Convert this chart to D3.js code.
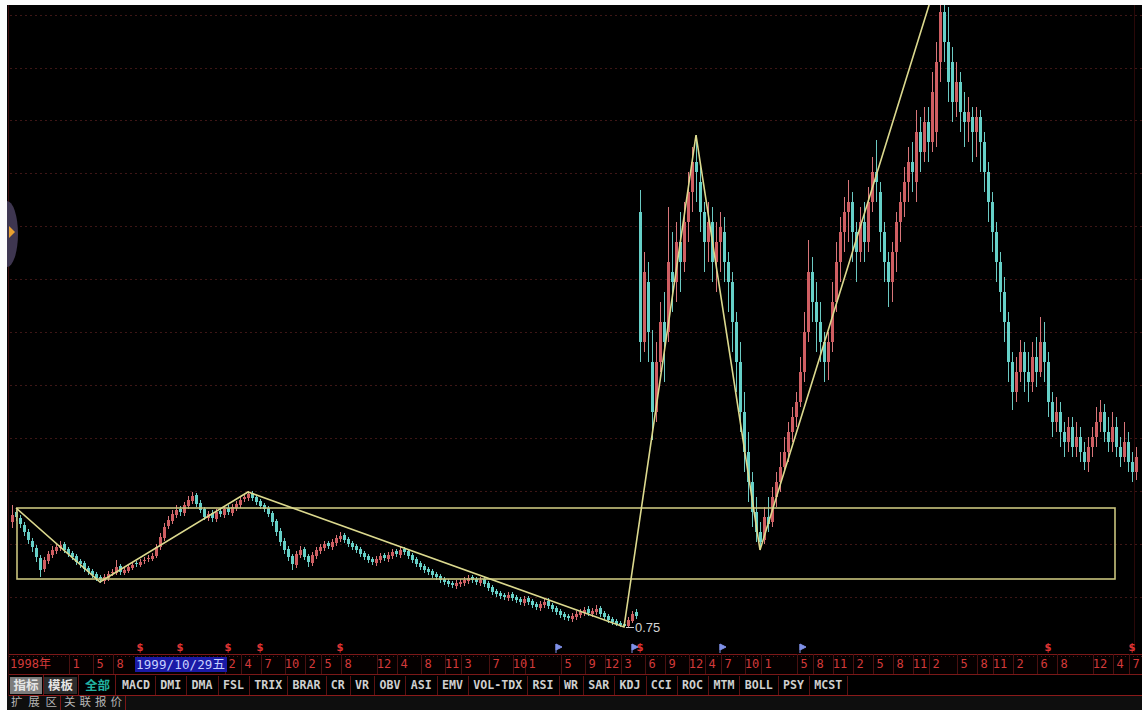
<!DOCTYPE html>
<html><head><meta charset="utf-8">
<script src="https://cdn.jsdelivr.net/npm/d3@7"></script>
<style>html,body{margin:0;padding:0;background:#000;overflow:hidden}svg{display:block}</style>
</head><body><svg id="c" width="1142" height="710"></svg>
<script>
// ---- candle data (weekly bars, price units) ----
const openP=[
1.80,1.90,1.84,1.77,1.70,1.61,1.54,1.44,1.33,1.41,
1.47,1.51,1.54,1.58,1.53,1.49,1.46,1.41,1.39,1.34,
1.31,1.28,1.25,1.21,1.24,1.29,1.29,1.36,1.29,1.31,
1.34,1.39,1.37,1.41,1.43,1.43,1.46,1.55,1.64,1.76,
1.81,1.87,1.93,1.89,1.96,2.01,2.07,1.99,1.93,1.84,
1.89,1.83,1.91,1.87,1.94,1.89,1.94,1.97,2.03,2.04,
2.09,2.05,2.01,1.97,1.94,1.89,1.81,1.71,1.61,1.53,
1.46,1.37,1.47,1.53,1.46,1.39,1.46,1.51,1.54,1.59,
1.55,1.59,1.63,1.67,1.63,1.59,1.56,1.53,1.49,1.46,
1.43,1.39,1.42,1.47,1.43,1.46,1.51,1.47,1.53,1.51,
1.47,1.43,1.39,1.36,1.33,1.31,1.28,1.26,1.23,1.21,
1.19,1.16,1.18,1.19,1.21,1.25,1.23,1.19,1.23,1.19,
1.15,1.11,1.09,1.07,1.04,1.08,1.05,1.03,0.99,1.04,
1.01,0.98,0.94,0.97,1.01,0.97,0.94,0.91,0.88,0.86,
0.83,0.85,0.87,0.89,0.93,0.88,0.90,0.94,0.89,0.86,
0.83,0.81,0.79,0.78,0.76,0.81,0.90,4.90,3.60,4.20,
3.40,2.90,3.40,3.80,3.70,4.30,4.20,4.60,4.40,4.80,
5.10,5.40,5.20,4.90,4.60,4.80,4.40,4.60,4.70,4.40,
4.20,3.80,3.40,2.90,2.50,2.20,1.90,1.70,1.62,1.85,
1.80,2.05,2.20,2.35,2.50,2.70,2.85,3.00,3.30,3.70,
4.30,4.00,3.80,3.60,3.40,3.60,4.00,4.40,4.70,4.90,
5.00,4.70,4.50,4.80,4.60,5.00,5.30,5.10,4.70,4.40,
4.20,4.50,4.80,5.00,5.20,5.40,5.20,5.70,5.50,5.80,
5.60,5.70,6.40,6.90,6.60,6.40,6.00,6.20,5.90,5.80,
5.85,5.70,5.85,5.60,5.30,5.00,4.70,4.40,4.10,3.80,
3.40,3.10,3.30,3.50,3.30,3.20,3.45,3.30,3.60,3.40,
3.00,2.80,2.90,2.70,2.60,2.75,2.55,2.65,2.50,2.40,
2.55,2.65,2.80,2.90,2.70,2.60,2.75,2.55,2.45,2.60,
2.40,2.30];
const highP=[
1.97,1.92,1.87,1.80,1.73,1.64,1.57,1.47,1.45,1.51,
1.56,1.58,1.61,1.60,1.55,1.51,1.48,1.43,1.41,1.36,
1.33,1.30,1.27,1.28,1.31,1.33,1.42,1.38,1.35,1.38,
1.40,1.41,1.43,1.45,1.47,1.49,1.58,1.69,1.79,1.86,
1.92,1.97,1.96,2.00,2.06,2.10,2.09,2.02,1.95,1.91,
1.92,1.93,1.93,1.96,1.97,1.98,2.01,2.05,2.08,2.11,
2.11,2.07,2.03,1.99,1.96,1.91,1.83,1.74,1.64,1.56,
1.48,1.51,1.56,1.55,1.48,1.50,1.55,1.58,1.61,1.61,
1.63,1.67,1.70,1.69,1.65,1.61,1.58,1.55,1.51,1.48,
1.45,1.46,1.49,1.49,1.50,1.53,1.53,1.55,1.55,1.53,
1.49,1.45,1.41,1.38,1.35,1.33,1.30,1.28,1.25,1.23,
1.21,1.22,1.23,1.25,1.27,1.27,1.25,1.25,1.25,1.21,
1.17,1.13,1.11,1.09,1.10,1.10,1.07,1.05,1.06,1.06,
1.03,1.00,1.01,1.03,1.04,0.99,0.96,0.93,0.90,0.88,
0.89,0.91,0.93,0.95,0.96,0.94,0.97,0.96,0.91,0.88,
0.85,0.83,0.81,0.80,0.85,0.91,0.93,5.12,4.50,4.40,
3.72,3.60,4.00,4.10,4.95,4.70,4.80,4.90,5.00,5.30,
5.55,5.67,5.40,5.00,5.00,4.95,4.80,4.90,4.85,4.50,
4.30,3.90,3.60,3.10,2.70,2.30,2.05,1.80,1.95,2.05,
2.15,2.30,2.50,2.65,2.80,2.95,3.10,3.45,3.90,4.62,
4.45,4.20,4.00,3.70,3.70,4.20,4.60,4.85,5.05,5.22,
5.10,4.80,4.95,5.00,5.15,5.45,5.62,5.20,4.80,4.50,
4.60,4.90,5.10,5.35,5.55,5.60,5.92,5.85,5.95,5.95,
6.30,6.60,6.98,6.98,6.95,6.55,6.40,6.30,6.10,6.05,
5.95,5.95,5.92,5.70,5.40,5.10,4.80,4.50,4.25,3.90,
3.50,3.45,3.62,3.60,3.50,3.60,3.65,3.85,3.80,3.50,
3.10,3.05,3.00,2.80,2.85,2.85,2.80,2.75,2.60,2.65,
2.75,2.95,3.02,2.98,2.85,2.90,2.85,2.65,2.80,2.70,
2.50,2.55];
const lowP=[
1.74,1.81,1.74,1.66,1.58,1.50,1.40,1.25,1.30,1.38,
1.44,1.48,1.51,1.49,1.45,1.42,1.37,1.34,1.30,1.27,
1.24,1.21,1.19,1.18,1.21,1.26,1.27,1.27,1.27,1.29,
1.32,1.35,1.35,1.38,1.40,1.41,1.44,1.52,1.61,1.73,
1.78,1.84,1.86,1.86,1.93,1.98,1.95,1.89,1.82,1.81,
1.80,1.80,1.85,1.84,1.87,1.86,1.91,1.94,2.00,2.01,
2.01,1.97,1.93,1.90,1.85,1.76,1.66,1.56,1.48,1.41,
1.32,1.34,1.44,1.42,1.35,1.36,1.43,1.48,1.51,1.53,
1.52,1.56,1.60,1.59,1.55,1.52,1.49,1.45,1.42,1.39,
1.37,1.36,1.39,1.41,1.40,1.43,1.45,1.44,1.47,1.43,
1.39,1.35,1.32,1.29,1.27,1.24,1.22,1.19,1.17,1.15,
1.14,1.13,1.15,1.16,1.18,1.19,1.17,1.16,1.15,1.11,
1.07,1.05,1.03,1.02,1.01,1.01,0.99,0.97,0.96,0.97,
0.94,0.92,0.91,0.94,0.93,0.90,0.87,0.84,0.82,0.81,
0.80,0.82,0.84,0.86,0.86,0.85,0.87,0.85,0.82,0.79,
0.77,0.76,0.75,0.75,0.75,0.79,0.83,3.40,3.50,3.40,
2.62,2.80,3.30,3.20,3.60,3.90,4.00,4.10,4.30,4.60,
4.90,5.00,4.70,4.30,4.40,4.20,4.10,4.30,4.20,3.90,
3.50,3.10,2.70,2.30,2.00,1.75,1.60,1.52,1.58,1.70,
1.75,1.95,2.10,2.30,2.40,2.60,2.75,2.95,3.20,3.60,
3.80,3.50,3.40,3.20,3.22,3.50,3.90,4.20,4.50,4.60,
4.40,4.20,4.40,4.40,4.50,4.90,5.00,4.50,4.20,3.95,
4.00,4.30,4.60,4.85,5.00,5.10,5.00,5.30,5.40,5.40,
5.50,5.55,6.20,6.40,6.00,5.80,5.85,5.70,5.55,5.60,
5.40,5.45,5.30,5.10,4.80,4.50,4.20,3.90,3.60,3.20,
2.92,3.00,3.20,3.10,3.00,3.10,3.15,3.25,3.20,2.85,
2.65,2.70,2.55,2.45,2.50,2.45,2.45,2.40,2.32,2.30,
2.45,2.55,2.70,2.60,2.50,2.50,2.45,2.35,2.40,2.30,
2.20,2.22];
const closeP=[
1.87,1.85,1.78,1.70,1.62,1.55,1.45,1.32,1.42,1.48,
1.52,1.55,1.57,1.52,1.48,1.45,1.40,1.38,1.33,1.30,
1.27,1.24,1.22,1.25,1.28,1.30,1.35,1.30,1.32,1.35,
1.37,1.38,1.40,1.42,1.44,1.46,1.55,1.65,1.75,1.82,
1.88,1.92,1.90,1.97,2.02,2.06,1.98,1.92,1.85,1.88,
1.84,1.90,1.88,1.93,1.90,1.95,1.98,2.02,2.05,2.08,
2.04,2.00,1.96,1.93,1.88,1.80,1.70,1.60,1.52,1.45,
1.38,1.48,1.52,1.45,1.40,1.47,1.52,1.55,1.58,1.56,
1.60,1.64,1.66,1.62,1.58,1.55,1.52,1.48,1.45,1.42,
1.40,1.43,1.46,1.44,1.47,1.50,1.48,1.52,1.50,1.46,
1.42,1.38,1.35,1.32,1.30,1.27,1.25,1.22,1.20,1.18,
1.17,1.19,1.20,1.22,1.24,1.22,1.20,1.22,1.18,1.14,
1.10,1.08,1.06,1.05,1.07,1.04,1.02,1.00,1.03,1.00,
0.97,0.95,0.98,1.00,0.96,0.93,0.90,0.87,0.85,0.84,
0.86,0.88,0.90,0.92,0.89,0.91,0.93,0.88,0.85,0.82,
0.80,0.78,0.77,0.76,0.82,0.88,0.86,3.60,4.30,3.70,
2.90,3.40,3.80,3.60,4.40,4.20,4.60,4.40,4.80,5.10,
5.40,5.30,4.90,4.60,4.80,4.40,4.60,4.75,4.40,4.20,
3.80,3.40,2.90,2.50,2.20,1.90,1.70,1.60,1.85,1.78,
2.05,2.20,2.35,2.50,2.70,2.85,3.00,3.30,3.70,4.30,
4.00,3.80,3.60,3.40,3.60,4.00,4.40,4.70,4.90,5.00,
4.70,4.50,4.80,4.60,5.00,5.30,5.20,4.70,4.40,4.20,
4.50,4.80,5.00,5.20,5.40,5.30,5.70,5.50,5.80,5.60,
6.10,6.40,6.90,6.60,6.20,6.00,6.20,5.90,5.80,5.90,
5.70,5.85,5.60,5.30,5.00,4.70,4.40,4.10,3.80,3.40,
3.10,3.30,3.50,3.30,3.20,3.45,3.30,3.60,3.40,3.00,
2.80,2.90,2.70,2.60,2.75,2.55,2.65,2.50,2.40,2.55,
2.65,2.80,2.90,2.70,2.60,2.75,2.55,2.45,2.60,2.40,
2.30,2.45];

// ---- drawn objects ----
const zigzagIdx=[1,22,59,153,171,187,229.5];
const zigzagPrice=[1.94,1.20,2.10,0.75,5.67,1.52,7.00];
const boxIdx=[1.25,275.75];
const boxPrice=[1.23,1.94];
const gridPrices=[6.87,6.34,5.82,5.29,4.76,4.23,3.70,3.17,2.64,2.11,1.58,1.05];
const lowLabel="0.75", lowIdx=153, lowPrice=0.75;

// ---- date axis ----
const dateLabels=["1998年","1","5","8","2","4","7","10","2","5","8","12","4","8","11","3","7","10","1","5","9","12","3","6","9","12","4","7","10","1","5","8","11","2","5","8","11","2","5","8","11","2","6","8","12","4","7"];
const dateIdx=[0,16,22,27,55,59,64,70,75,79,84,93,98,104,110,114,121,127,130,139,145,150,154,160,165,171,175,179,185,189,198,202,207,212,217,222,227,231,238,243,247,252,258,263,272,277,281];
const cursorDate="1999/10/29五", cursorIdx=31;
const redMarkIdx=[32,42,54,62,82,157,259,280];
const blueMarkIdx=[136,155,177,197];

// ---- tabs ----
const leftTabs=["指标","模板","全部"];
const tabNames=["MACD","DMI","DMA","FSL","TRIX","BRAR","CR","VR","OBV","ASI","EMV","VOL-TDX","RSI","WR","SAR","KDJ","CCI","ROC","MTM","BOLL","PSY","MCST"];
const bottomTabs=["扩展区","关联报价"];

const W=1142,H=710;
const svg=d3.select("#c");
const N=closeP.length;
const x=d3.scaleLinear().domain([0,N-1]).range([12,12+4*(N-1)]);
const y=d3.scaleLinear().domain([0.75,6.97]).range([627,5]);

svg.append("rect").attr("width",W).attr("height",H).attr("fill","#000");

// clip for chart
svg.append("clipPath").attr("id","cp").append("rect").attr("x",9).attr("y",5).attr("width",W-9).attr("height",648);
const g=svg.append("g").attr("clip-path","url(#cp)");

// grid
g.selectAll("line.grid").data(gridPrices).join("line")
 .attr("x1",10).attr("x2",W).attr("y1",d=>Math.round(y(d))+0.5).attr("y2",d=>Math.round(y(d))+0.5)
 .attr("stroke","#3e1616").attr("stroke-width",1).attr("stroke-dasharray","2,3");

// candles
const data=d3.range(N).map(i=>({i,o:openP[i],h:highP[i],l:lowP[i],c:closeP[i]}));
const up=d=>d.c>=d.o;
const cg=g.append("g");
cg.selectAll("line.wick").data(data).join("line")
 .attr("x1",d=>x(d.i)+0.5).attr("x2",d=>x(d.i)+0.5)
 .attr("y1",d=>y(d.h)).attr("y2",d=>y(d.l))
 .attr("stroke",d=>up(d)?"#d8767a":"#6cc9c2").attr("stroke-width",1);
cg.selectAll("rect.body").data(data).join("rect")
 .attr("x",d=>x(d.i)-1).attr("width",3)
 .attr("y",d=>y(Math.max(d.o,d.c)))
 .attr("height",d=>Math.max(1,y(Math.min(d.o,d.c))-y(Math.max(d.o,d.c))))
 .attr("fill",d=>up(d)?"#cf5e62":"#66d0c8");

// box
g.append("rect")
 .attr("x",x(boxIdx[0])).attr("y",y(boxPrice[1]))
 .attr("width",x(boxIdx[1])-x(boxIdx[0])).attr("height",y(boxPrice[0])-y(boxPrice[1]))
 .attr("fill","none").attr("stroke","#c9c47e").attr("stroke-width",1.6);

// zigzag
const zz=zigzagIdx.map((d,k)=>[x(d),y(zigzagPrice[k])]);
g.append("path").attr("d",d3.line()(zz)).attr("fill","none")
 .attr("stroke","#dcd98e").attr("stroke-width",1.6);

// low label
g.append("line").attr("x1",x(lowIdx)+2).attr("x2",x(lowIdx)+10)
 .attr("y1",y(lowPrice)+0.5).attr("y2",y(lowPrice)+0.5).attr("stroke","#d0d0d0");
g.append("text").attr("x",x(lowIdx)+11).attr("y",y(lowPrice)+5)
 .attr("fill","#d4d4d4").attr("font-family","Liberation Sans, Arial").attr("font-size",13).text(lowLabel);

// frame: white top/left
svg.append("rect").attr("x",0).attr("y",0).attr("width",W).attr("height",5).attr("fill","#fbfbfb");
svg.append("rect").attr("x",0).attr("y",0).attr("width",7).attr("height",H).attr("fill","#fbfbfb");
svg.append("line").attr("x1",8.5).attr("x2",8.5).attr("y1",5).attr("y2",H).attr("stroke","#3a0c0c");
svg.append("line").attr("x1",1134.5).attr("x2",1134.5).attr("y1",5).attr("y2",652).attr("stroke","#2a0808");

// left handle
svg.append("path").attr("d","M7,201 A11,33 0 0 1 7,267 Z").attr("fill","#3e3650");
svg.append("path").attr("d","M9,226 L15,232 L9,238 Z").attr("fill","#e8a030");

// markers above date axis
svg.selectAll("text.rm").data(redMarkIdx).join("text")
 .attr("x",d=>x(d)).attr("y",651).attr("text-anchor","middle")
 .attr("fill","#e03434").attr("font-family","DejaVu Sans").attr("font-size",10).attr("font-weight","bold").text("$");
svg.selectAll("path.bm").data(blueMarkIdx).join("path")
 .attr("d",d=>`M${x(d)},644 L${x(d)+6},647 L${x(d)},650 Z M${x(d)},644 L${x(d)},653`)
 .attr("fill","#7f90e8").attr("stroke","#7f90e8").attr("stroke-width",1);

// date axis row
const dy0=654, dy1=674;
svg.append("rect").attr("x",9).attr("y",dy0).attr("width",W-9).attr("height",dy1-dy0).attr("fill","#050000");
svg.append("line").attr("x1",9).attr("x2",W).attr("y1",dy0+0.5).attr("y2",dy0+0.5).attr("stroke","#7a1818");
svg.append("line").attr("x1",9).attr("x2",W).attr("y1",dy0+2.5).attr("y2",dy0+2.5).attr("stroke","#5a1212").attr("stroke-dasharray","1,3");
svg.append("line").attr("x1",9).attr("x2",W).attr("y1",dy1+0.5).attr("y2",dy1+0.5).attr("stroke","#7a1818");
svg.selectAll("line.dsep").data(dateIdx.slice(1)).join("line")
 .attr("x1",d=>Math.round(x(d))-6.5).attr("x2",d=>Math.round(x(d))-6.5).attr("y1",dy0).attr("y2",dy1)
 .attr("stroke","#4a1010");
svg.selectAll("text.dl").data(dateLabels).join("text")
 .attr("x",(d,k)=>k===0?x(dateIdx[k])-2:x(dateIdx[k]))
 .attr("y",dy0+14).attr("text-anchor",(d,k)=>k===0?"start":"middle")
 .attr("fill","#d33a3a").attr("font-family","DejaVu Sans Mono, Noto Sans CJK SC").attr("font-size",12).text(d=>d);
// cursor date
const cx0=x(cursorIdx)-1;
svg.append("rect").attr("x",cx0).attr("y",dy0+3).attr("width",92).attr("height",15).attr("fill","#1a1aa6");
svg.append("text").attr("x",cx0+1).attr("y",dy0+15).attr("fill","#c8d0ff")
 .attr("font-family","DejaVu Sans Mono, Noto Sans CJK SC").attr("font-size",12.5).attr("textLength",89).text(cursorDate);

// tab row
const ty0=675, ty1=695;
svg.append("line").attr("x1",9).attr("x2",W).attr("y1",ty1+0.5).attr("y2",ty1+0.5).attr("stroke","#8a1a1a");
const ltX=[10,44,81], ltW=[32,33,33];
leftTabs.forEach((t,k)=>{
  svg.append("rect").attr("x",ltX[k]).attr("y",ty0+2).attr("width",ltW[k]).attr("height",17)
   .attr("fill",k===0?"#7c7c7c":(k===1?"#2c2c2c":"#000"));
  svg.append("text").attr("x",ltX[k]+ltW[k]/2).attr("y",ty0+15).attr("text-anchor","middle")
   .attr("fill",k===2?"#22b3a3":"#e6e6e6").attr("font-family","Noto Sans CJK SC").attr("font-weight","bold")
   .attr("font-size",12.5).text(t);
  svg.append("line").attr("x1",ltX[k]+ltW[k]+1.5).attr("x2",ltX[k]+ltW[k]+1.5).attr("y1",ty0).attr("y2",ty1).attr("stroke","#6a1414");
});
let cur=122;
tabNames.forEach(t=>{
  const w=t.length*7;
  svg.append("text").attr("x",cur).attr("y",ty0+14).attr("fill","#cfcfcf")
   .attr("font-family","DejaVu Sans Mono").attr("font-weight","bold").attr("font-size",11.6)
   .attr("textLength",w).text(t);
  svg.append("line").attr("x1",Math.round(cur+w+5)+0.5).attr("x2",Math.round(cur+w+5)+0.5).attr("y1",ty0+1).attr("y2",ty1)
   .attr("stroke","#5a1212");
  cur+=w+10.3;
});

// bottom row
svg.append("rect").attr("x",7).attr("y",ty1+1).attr("width",W-7).attr("height",H-ty1-1).attr("fill","#0e0e0e");
const btX=[11,64], btW=[46,58];
bottomTabs.forEach((t,k)=>{
  svg.append("text").attr("x",btX[k]).attr("y",706).attr("fill","#b4b4b4")
   .attr("font-family","Noto Sans CJK SC").attr("font-size",11.5).attr("textLength",btW[k]).text(t);
  svg.append("line").attr("x1",btX[k]+btW[k]+3.5).attr("x2",btX[k]+btW[k]+3.5).attr("y1",ty1+1).attr("y2",H).attr("stroke","#7a1616");
});
</script>
</body></html>
